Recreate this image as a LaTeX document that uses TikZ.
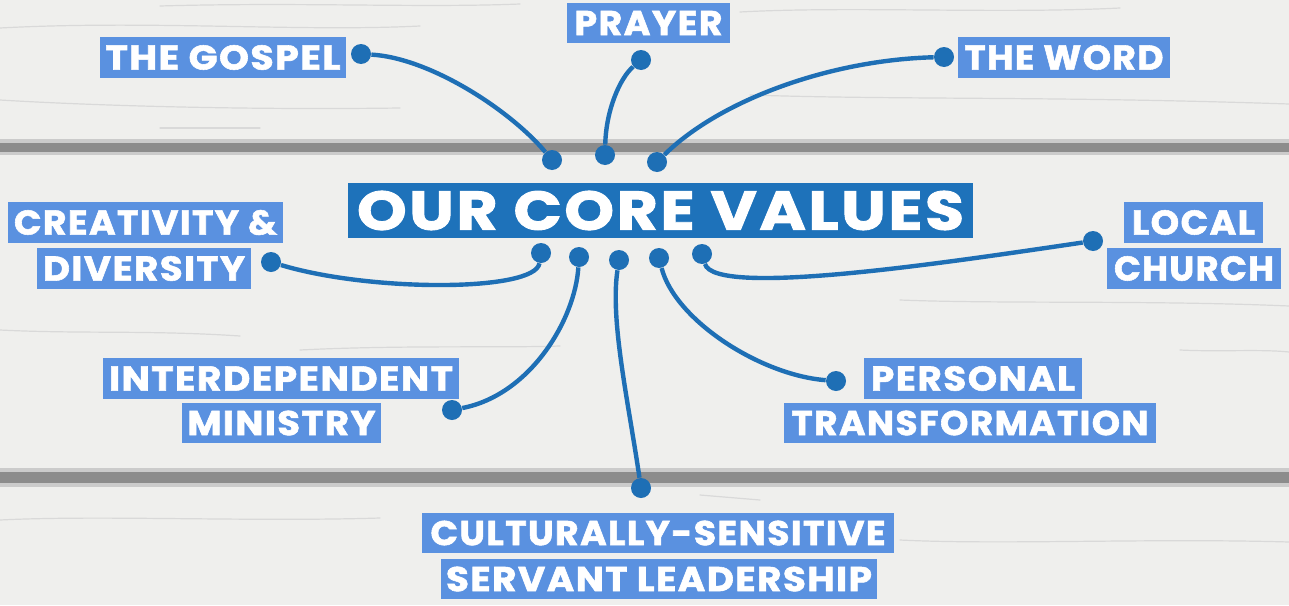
\documentclass[tikz,border=0pt]{standalone}
\usepackage{fontspec}
\usepackage{graphicx}
\setmainfont{Poppins}
\newfontfamily\labfont{Poppins}[LetterSpace=4, BoldFeatures={FakeBold=1.6}]
\newdimen\pxd \pxd=0.5pt
\definecolor{bgc}{HTML}{EFEFED}
\definecolor{gapc}{HTML}{8C8C8C}
\definecolor{titlec}{HTML}{1E72BA}
\definecolor{lblc}{HTML}{5A91E0}
\definecolor{dotc}{HTML}{1E6FB5}
\newcommand\fitw[2]{\resizebox{#1\pxd}{\height}{#2}}
\tikzset{
  lbl/.style={fill=lblc, text=white, inner sep=0pt, font=\labfont\bfseries\fontsize{17.2}{20}\selectfont},
  ttl/.style={fill=titlec, text=white, inner sep=0pt, font=\labfont\bfseries\fontsize{27.3}{30}\selectfont},
  dot/.style={circle, fill=dotc, inner sep=0pt, minimum size=20\pxd},
  conn/.style={draw=dotc, line width=2.2pt},
  streak/.style={draw=gray!30, line width=0.6pt, line cap=round},
}
\begin{document}
\begin{tikzpicture}[x=0.5pt, y=-0.5pt]
\useasboundingbox (0,0) rectangle (1289,605);
% background planks
\fill[bgc] (0,0) rectangle (1289,605);
\fill[gapc!45] (0,139) rectangle (1289,155);
\fill[gapc] (0,142.5) rectangle (1289,152);
\fill[gapc!45] (0,468) rectangle (1289,487);
\fill[gapc] (0,472) rectangle (1289,483);
% faint wood grain
\draw[streak] (0,28) .. controls (150,20) and (300,32) .. (420,26);
\draw[streak] (740,12) .. controls (850,6) and (1000,14) .. (1120,8);
\draw[streak] (750,95) .. controls (900,100) and (1050,96) .. (1289,104);
\draw[streak] (160,6) .. controls (300,2) and (420,8) .. (520,4);
\draw[streak] (0,100) .. controls (100,106) and (250,110) .. (400,108);
\draw[streak] (160,128) -- (260,128);
\draw[streak] (900,300) .. controls (1000,304) and (1150,300) .. (1289,306);
\draw[streak] (0,330) .. controls (80,334) and (150,330) .. (240,336);
\draw[streak] (300,350) .. controls (400,345) and (500,348) .. (560,346);
\draw[streak] (0,520) .. controls (100,515) and (250,522) .. (380,518);
\draw[streak] (900,540) .. controls (1000,545) and (1150,538) .. (1289,542);
\draw[streak] (1180,350) .. controls (1220,352) and (1260,349) .. (1289,352);
\draw[streak] (700,495) -- (760,500);
% title
\node[ttl, minimum width=625\pxd, minimum height=55\pxd] (title) at (660.5,210.5) {\fitw{607}{OUR CORE VALUES}};
% labels
\node[lbl, minimum width=246\pxd, minimum height=41\pxd] (gospel) at (223,57.5) {\fitw{235}{THE GOSPEL}};
\node[lbl, minimum width=163\pxd, minimum height=40\pxd] (prayer) at (648.5,23) {\fitw{148}{PRAYER}};
\node[lbl, minimum width=212\pxd, minimum height=41\pxd] (word) at (1064,57.5) {\fitw{199}{THE WORD}};
\node[lbl, minimum width=275\pxd, minimum height=41\pxd] (creatA) at (145.5,222.5) {\fitw{263}{CREATIVITY \&}};
\node[lbl, minimum width=214\pxd, minimum height=41\pxd] (creatB) at (144,268.5) {\fitw{202}{DIVERSITY}};
\node[lbl, minimum width=139\pxd, minimum height=41\pxd] (localA) at (1193.5,222.5) {\fitw{123}{LOCAL}};
\node[lbl, minimum width=174\pxd, minimum height=41\pxd] (localB) at (1194,268.5) {\fitw{160}{CHURCH}};
\node[lbl, minimum width=356\pxd, minimum height=41\pxd] (interA) at (281,378.5) {\fitw{344}{INTERDEPENDENT}};
\node[lbl, minimum width=199\pxd, minimum height=40\pxd] (interB) at (281.5,423) {\fitw{188}{MINISTRY}};
\node[lbl, minimum width=218\pxd, minimum height=41\pxd] (persA) at (973,378.5) {\fitw{204}{PERSONAL}};
\node[lbl, minimum width=372\pxd, minimum height=40\pxd] (persB) at (970,423) {\fitw{357}{TRANSFORMATION}};
\node[lbl, minimum width=472\pxd, minimum height=40\pxd] (cultA) at (658,533) {\fitw{455}{CULTURALLY-SENSITIVE}};
\node[lbl, minimum width=436\pxd, minimum height=40\pxd] (cultB) at (659,579) {\fitw{426}{SERVANT LEADERSHIP}};
% outer dots
\node[dot] (dG) at (361,54) {};
\node[dot] (dP) at (641,60) {};
\node[dot] (dW) at (944,57) {};
\node[dot] (dC) at (271,262) {};
\node[dot] (dL) at (1093,241) {};
\node[dot] (dI) at (452,410) {};
\node[dot] (dT) at (836,381) {};
\node[dot] (dS) at (641,488) {};
% center dots
\node[dot] (cG) at (552,160) {};
\node[dot] (cP) at (605,155) {};
\node[dot] (cW) at (657,162) {};
\node[dot] (cC) at (541,253) {};
\node[dot] (cI) at (579,257) {};
\node[dot] (cS) at (619,260) {};
\node[dot] (cT) at (659,258) {};
\node[dot] (cL) at (702,254) {};
% connectors
\draw[conn] (dG) .. controls (430,58) and (510,110) .. (cG);
\draw[conn] (dP) .. controls (620,78) and (606,110) .. (cP);
\draw[conn] (dW) .. controls (830,60) and (720,100) .. (cW);
\draw[conn] (dC) .. controls (370,292) and (535,292) .. (cC);
\draw[conn] (dL) .. controls (950,262) and (715,298) .. (cL);
\draw[conn] (dI) .. controls (530,395) and (575,320) .. (cI);
\draw[conn] (dT) .. controls (760,375) and (675,320) .. (cT);
\draw[conn] (dS) .. controls (628,400) and (610,320) .. (cS);
\end{tikzpicture}
\end{document}
